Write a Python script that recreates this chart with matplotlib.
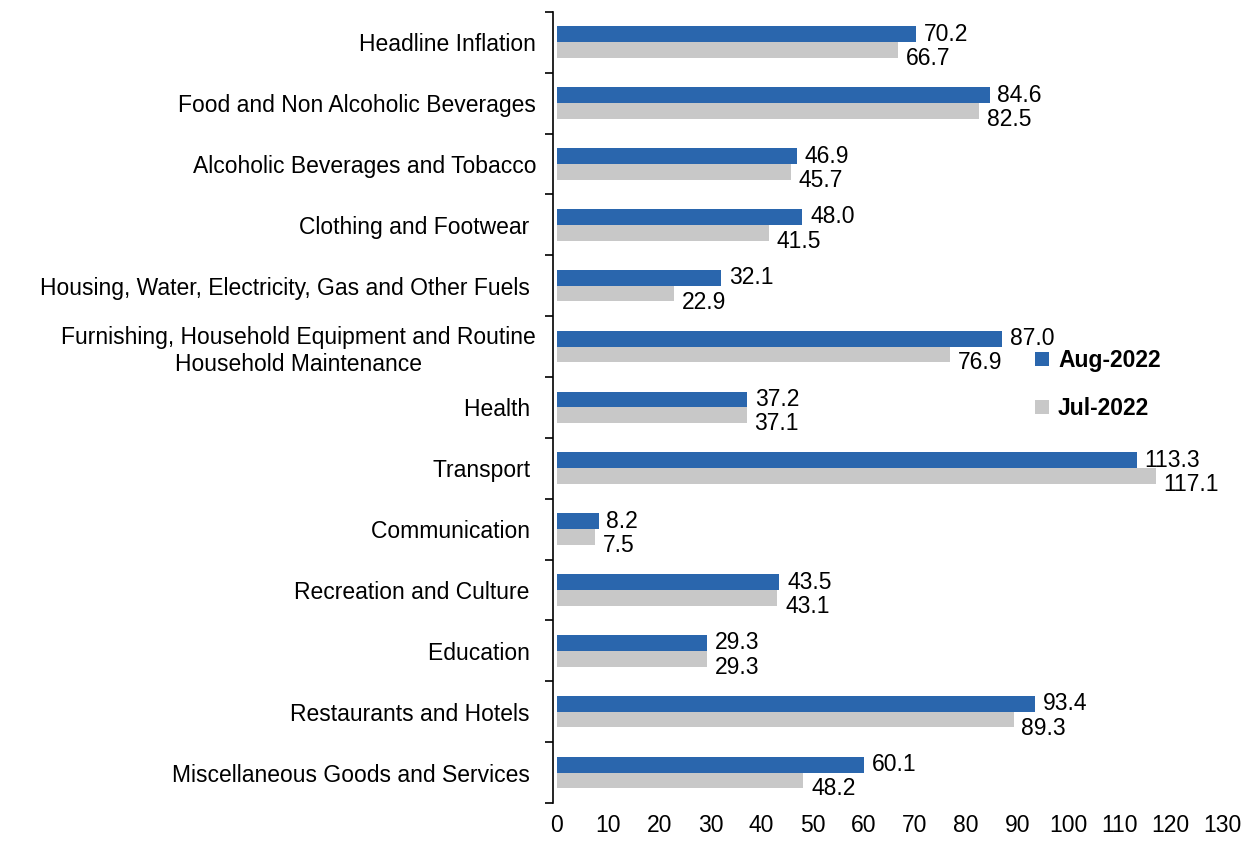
import numpy as np
import matplotlib.pyplot as plt

plt.rcParams['font.family'] = ['Liberation Sans', 'DejaVu Sans']

categories = [
    'Headline Inflation',
    'Food and Non Alcoholic Beverages',
    'Alcoholic Beverages and Tobacco',
    'Clothing and Footwear ',
    'Housing, Water, Electricity, Gas and Other Fuels ',
    'Furnishing, Household Equipment and Routine\nHousehold Maintenance',
    'Health ',
    'Transport ',
    'Communication ',
    'Recreation and Culture ',
    'Education ',
    'Restaurants and Hotels ',
    'Miscellaneous Goods and Services ',
]
aug_2022 = [70.2, 84.6, 46.9, 48.0, 32.1, 87.0, 37.2, 113.3, 8.2, 43.5, 29.3, 93.4, 60.1]
jul_2022 = [66.7, 82.5, 45.7, 41.5, 22.9, 76.9, 37.1, 117.1, 7.5, 43.1, 29.3, 89.3, 48.2]

blue = '#2a66ad'
grey = '#c8c8c8'
fs = 16.5

fig = plt.figure(figsize=(12.45, 8.43), dpi=100)
ax = fig.add_axes([0.444, 0.0475, 0.5375, 0.9385])

y = np.arange(len(categories))
h = 0.26
ax.barh(y - h / 2, aug_2022, height=h, color=blue, label='Aug-2022')
ax.barh(y + h / 2, jul_2022, height=h, color=grey, label='Jul-2022')

for i in range(len(categories)):
    ax.text(aug_2022[i] + 1.5, y[i] - h / 2, f'{aug_2022[i]:.1f}', va='center', fontsize=fs)
    ax.text(jul_2022[i] + 1.5, y[i] + h / 2 + 0.14, f'{jul_2022[i]:.1f}', va='center', fontsize=fs)

ax.set_ylim(len(categories) - 0.5, -0.5)
ax.set_xlim(-0.8, 130)
ax.set_xticks(np.arange(0, 131, 10))
ax.tick_params(axis='x', length=0, labelsize=fs, pad=8)

# category labels sit between the boundary ticks
ax.set_yticks(np.arange(-0.5, len(categories), 1))
ax.set_yticklabels([])
ax.set_yticks(y, minor=True)
ax.set_yticklabels(categories, minor=True, fontsize=fs, multialignment='center')
ax.tick_params(axis='y', which='major', length=6, width=1.2, direction='out')
ax.tick_params(axis='y', which='minor', length=0, pad=12)

for s in ['top', 'right', 'bottom']:
    ax.spines[s].set_visible(False)
ax.spines['left'].set_linewidth(1.2)

ax.legend(loc='upper left', bbox_to_anchor=(0.69, 0.6), frameon=False,
          prop={'weight': 'bold', 'size': fs}, handlelength=0.6, handleheight=0.6,
          handletextpad=0.4, labelspacing=1.1)

plt.savefig('out.png', dpi=100)
